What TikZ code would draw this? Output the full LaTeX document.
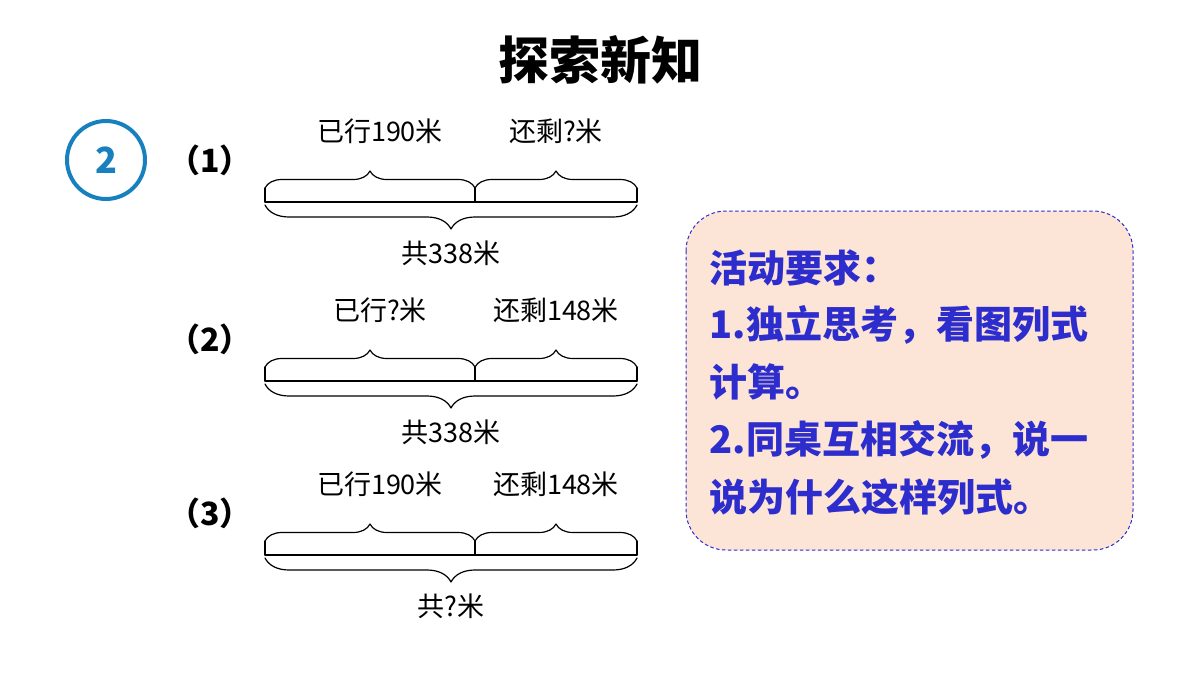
\documentclass[tikz,border=0pt]{standalone}
\usepackage{fontspec}
\setmainfont{Noto Sans CJK SC}
\usetikzlibrary{decorations.pathreplacing}
\definecolor{ringblue}{RGB}{25,128,190}
\definecolor{taskblue}{RGB}{45,45,205}
\definecolor{taskfill}{RGB}{252,228,214}
\tikzset{
  lbl/.style={font=\fontsize{27}{30}\selectfont},
  brc/.style={decorate, decoration={brace, amplitude=17pt}, line width=1.2pt},
  task/.style={font=\bfseries\fontsize{38}{41}\selectfont, text=taskblue, anchor=west}
}
\begin{document}
\begin{tikzpicture}[x=1pt, y=-1pt, line cap=round, line join=round]
			\useasboundingbox (0,0) rectangle (1200,675);
			\node[font=\bfseries\fontsize{51}{55}\selectfont] (title) at (600,60) {探索新知};
			\draw [ringblue, line width=4pt] (106,160) circle (39);
			\node[font=\bfseries\fontsize{36}{40}\selectfont, text=ringblue] (num) at (106,160) {2};
			% three line segment diagrams
			\foreach \y/\n/\a/\b/\c in {202/1/已行190米/还剩?米/共338米,381/2/已行?米/还剩148米/共338米,555/3/已行190米/还剩148米/共?米}{
				\node[font=\bfseries\fontsize{32}{36}\selectfont] (p\n) at (210,\y-42) {（\n）};
				\coordinate (l\n) at (265,\y);
				\coordinate (m\n) at (475,\y);
				\coordinate (r\n) at (637,\y);
				\draw [line width=1.2pt] (l\n) -- (r\n);
				\draw [line width=1.2pt] (m\n) -- ++(0,-14) ([yshift=14]l\n) -- (l\n) ([yshift=14]r\n) -- (r\n);
				\draw [brc] ([yshift=14]l\n) -- ([yshift=14]m\n);
				\draw [brc] ([yshift=14]m\n) -- ([yshift=14]r\n);
				\draw [brc, decoration={mirror, amplitude=24pt}] ([yshift=-3]l\n) -- ([yshift=-3]r\n);
				\node[lbl] (a\n) at (380,\y-71) {\a};
				\node[lbl] (b\n) at (556,\y-71) {\b};
				\node[lbl] (c\n) at (451,\y+51) {\c};
			}
			\draw [taskblue, dashed, line width=1pt, fill=taskfill, rounded corners=40pt] (686,211) rectangle (1133,550);
			\node[task] (t1) at (706,268) {活动要求：};
			\node[task] (t2) at (706,325) {1.独立思考，看图列式};
			\node[task] (t3) at (706,382) {计算。};
			\node[task] (t4) at (706,440) {2.同桌互相交流，说一};
			\node[task] (t5) at (706,497) {说为什么这样列式。};
\end{tikzpicture}
\end{document}
